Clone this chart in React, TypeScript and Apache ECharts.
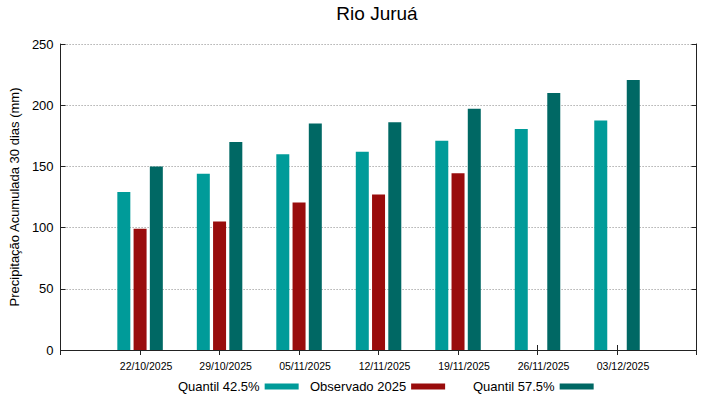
import React, { useEffect, useRef } from "react";
import * as echarts from "echarts";

const categories = ["22/10/2025", "29/10/2025", "05/11/2025", "12/11/2025", "19/11/2025", "26/11/2025", "03/12/2025"];
const quantil425 = [129, 144, 160, 162, 171, 180.5, 187.5];
const observado2025: (number | null)[] = [99, 105, 120.5, 127, 144.5, null, null];
const quantil575 = [150, 170, 185, 186, 197, 210, 220.5];
const yTicks = { min: 0, max: 250, interval: 50 };

const pad = <T,>(arr: T[]): (T | null)[] => [null, ...arr, null];

export default function App() {
  const ref = useRef<HTMLDivElement>(null);
  useEffect(() => {
    if (!ref.current) return;
    const chart = echarts.init(ref.current, null, { renderer: "svg" });
    const cats = ["", ...categories, ""];
    const font = "'Liberation Sans', Arial, sans-serif";
    const lineColor = "#222";
    chart.setOption({
      animation: false,
      textStyle: { fontFamily: font },
      title: {
        text: "Rio Juruá",
        left: 377,
        top: 4,
        padding: 0,
        textAlign: "center",
        textStyle: { fontFamily: font, fontSize: 19, fontWeight: "normal", color: "#000" },
      },
      grid: { left: 58, right: 22.5, top: 44, bottom: 49 },
      xAxis: [
        {
          type: "category",
          data: cats,
          boundaryGap: false,
          position: "bottom",
          axisLine: { show: true, lineStyle: { color: lineColor, width: 1 } },
          axisTick: { show: true, inside: true, length: 5, lineStyle: { color: lineColor } },
          axisLabel: {
            fontSize: 10.5,
            color: "#000",
            margin: 10,
            padding: [0, 0, 0, 12],
            interval: 0,
          },
          splitLine: { show: false },
        },
        {
          type: "category",
          data: cats,
          boundaryGap: false,
          position: "top",
          axisLine: { show: true, lineStyle: { color: lineColor, width: 1 } },
          axisTick: { show: true, inside: true, length: 5, lineStyle: { color: lineColor } },
          axisLabel: { show: false },
          splitLine: { show: false },
        },
      ],
      yAxis: [
        {
          type: "value",
          ...yTicks,
          position: "left",
          name: "Precipitação Acumulada 30 dias (mm)",
          nameLocation: "middle",
          nameGap: 34,
          nameTextStyle: { fontSize: 13, color: "#000", fontFamily: font },
          axisLine: { show: true, lineStyle: { color: lineColor, width: 1 } },
          axisTick: { show: true, inside: true, length: 5, lineStyle: { color: lineColor } },
          axisLabel: { fontSize: 13, color: "#000", margin: 7 },
          splitLine: { show: true, lineStyle: { type: [1, 2], color: "#888", width: 1 } },
        },
        {
          type: "value",
          ...yTicks,
          position: "right",
          axisLine: { show: true, lineStyle: { color: lineColor, width: 1 } },
          axisTick: { show: true, inside: true, length: 5, lineStyle: { color: lineColor } },
          axisLabel: { show: false },
          splitLine: { show: false },
        },
      ],
      legend: [
        {
          data: ["Quantil 42.5%"],
          left: 178,
          top: 380,
          padding: 0,
          align: "right",
          itemWidth: 34,
          itemHeight: 6,
          icon: "rect",
          textStyle: { fontSize: 13, color: "#000", fontFamily: font },
        },
        {
          data: ["Observado 2025"],
          left: 310,
          top: 380,
          padding: 0,
          align: "right",
          itemWidth: 34,
          itemHeight: 6,
          icon: "rect",
          textStyle: { fontSize: 13, color: "#000", fontFamily: font },
        },
        {
          data: ["Quantil 57.5%"],
          left: 473,
          top: 380,
          padding: 0,
          align: "right",
          itemWidth: 34,
          itemHeight: 6,
          icon: "rect",
          textStyle: { fontSize: 13, color: "#000", fontFamily: font },
        },
      ],
      series: [
        {
          name: "Quantil 42.5%",
          type: "bar",
          data: pad(quantil425),
          barWidth: 13,
          barGap: "25%",
          itemStyle: { color: "#009b99" },
        },
        {
          name: "Observado 2025",
          type: "bar",
          data: pad(observado2025),
          barWidth: 13,
          barGap: "25%",
          itemStyle: { color: "#990c0c" },
        },
        {
          name: "Quantil 57.5%",
          type: "bar",
          data: pad(quantil575),
          barWidth: 13,
          barGap: "25%",
          itemStyle: { color: "#006864" },
        },
      ],
    });
    return () => chart.dispose();
  }, []);
  return <div ref={ref} style={{ width: 719, height: 399, position: "absolute", left: 0, top: 0 }} />;
}
